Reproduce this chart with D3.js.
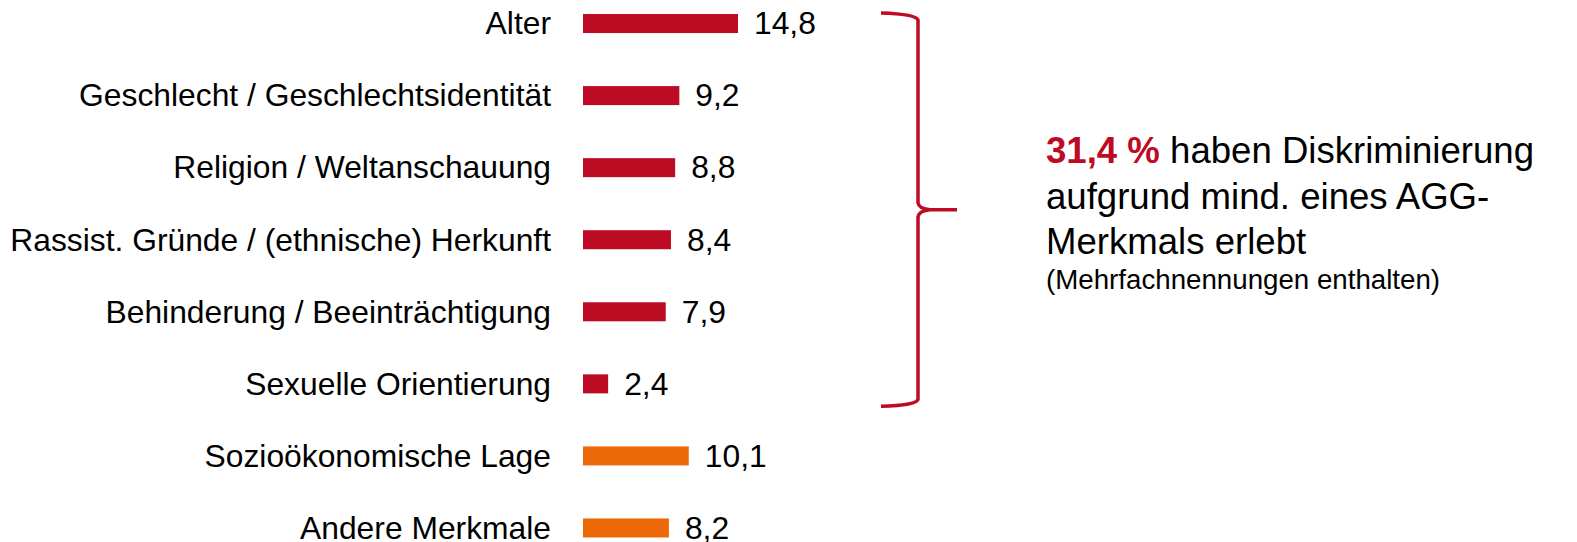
<!DOCTYPE html>
<html>
<head>
<meta charset="utf-8">
<script src="https://cdn.jsdelivr.net/npm/d3@7"></script>
<style>
    body { margin: 0; background: #fff; }
    text { font-family: "Liberation Sans", Arial, sans-serif; fill: #000; }
</style>
</head>
<body>
<div id="chart"></div>
<script>
"use strict"

// data
const categories = [
    "Alter",
    "Geschlecht / Geschlechtsidentität",
    "Religion / Weltanschauung",
    "Rassist. Gründe / (ethnische) Herkunft",
    "Behinderung / Beeinträchtigung",
    "Sexuelle Orientierung",
    "Sozioökonomische Lage",
    "Andere Merkmale"
]
const values = [14.8, 9.2, 8.8, 8.4, 7.9, 2.4, 10.1, 8.2]
// first six are AGG characteristics, the last two are other ones
const groups = ["agg", "agg", "agg", "agg", "agg", "agg", "other", "other"]
const totalLabel = "31,4 %"

const WIDTH = 1577
const HEIGHT = 542
const COLORS = { agg: "#BE0B24", other: "#EC6907" }
const FONT = 31.8

const svg = d3.select("#chart").append("svg")
    .attr("width", WIDTH).attr("height", HEIGHT)

// scales
const x = d3.scaleLinear().domain([0, 14.8]).range([583, 738])
const y = d3.scaleBand().domain(categories).range([-12.5, 564]).paddingInner(0.736).paddingOuter(0.368)

const rows = categories.map((c, i) => ({ cat: c, value: values[i], group: groups[i] }))

// bars
svg.append("g").selectAll("rect").data(rows).join("rect")
    .attr("x", x(0))
    .attr("y", d => y(d.cat))
    .attr("width", d => x(d.value) - x(0))
    .attr("height", y.bandwidth())
    .attr("fill", d => COLORS[d.group])

// category labels
svg.append("g").selectAll("text").data(rows).join("text")
    .attr("x", 551)
    .attr("y", d => y(d.cat) + y.bandwidth() / 2)
    .attr("dy", "0.34em")
    .attr("text-anchor", "end")
    .attr("font-size", FONT)
    .text(d => d.cat)

// value labels, german decimal comma
const fmt = d3.formatLocale({ decimal: ",", thousands: ".", grouping: [3], currency: ["", " €"] }).format(".1f")
svg.append("g").selectAll("text").data(rows).join("text")
    .attr("x", d => x(d.value) + 16)
    .attr("y", d => y(d.cat) + y.bandwidth() / 2)
    .attr("dy", "0.34em")
    .attr("font-size", FONT)
    .text(d => fmt(d.value))

// curly brace over the AGG rows
const aggRows = rows.filter(d => d.group === "agg")
const braceTop = y(aggRows[0].cat) - 1
const braceBottom = y(aggRows[aggRows.length - 1].cat) + y.bandwidth() + 13
const braceMid = (braceTop + braceBottom) / 2
const bx0 = 881, bx1 = 918, tip = 957
const r = 7
const brace = d3.path()
brace.moveTo(bx0, braceTop)
brace.quadraticCurveTo(bx1 - 2, braceTop + 1, bx1, braceTop + r)
brace.lineTo(bx1, braceMid - r)
brace.quadraticCurveTo(bx1 + 1, braceMid - 1, bx1 + 12, braceMid)
brace.lineTo(tip, braceMid)
brace.moveTo(bx1 + 12, braceMid)
brace.quadraticCurveTo(bx1 + 1, braceMid + 1, bx1, braceMid + r)
brace.lineTo(bx1, braceBottom - r)
brace.quadraticCurveTo(bx1 - 2, braceBottom - 1, bx0, braceBottom)
svg.append("path").attr("d", brace.toString())
    .attr("fill", "none").attr("stroke", COLORS.agg).attr("stroke-width", 3.5)

// annotation text
const note = svg.append("g").attr("transform", "translate(1046,0)")
const l1 = note.append("text").attr("y", 163).attr("font-size", 36.6)
l1.append("tspan").attr("font-weight", "bold").style("fill", COLORS.agg).text(totalLabel)
l1.append("tspan").text(" haben Diskriminierung")
note.append("text").attr("y", 209).attr("font-size", 36.6).text("aufgrund mind. eines AGG-")
note.append("text").attr("y", 254).attr("font-size", 36.6).text("Merkmals erlebt")
note.append("text").attr("y", 289).attr("font-size", 27.7).text("(Mehrfachnennungen enthalten)")
</script>
</body>
</html>
